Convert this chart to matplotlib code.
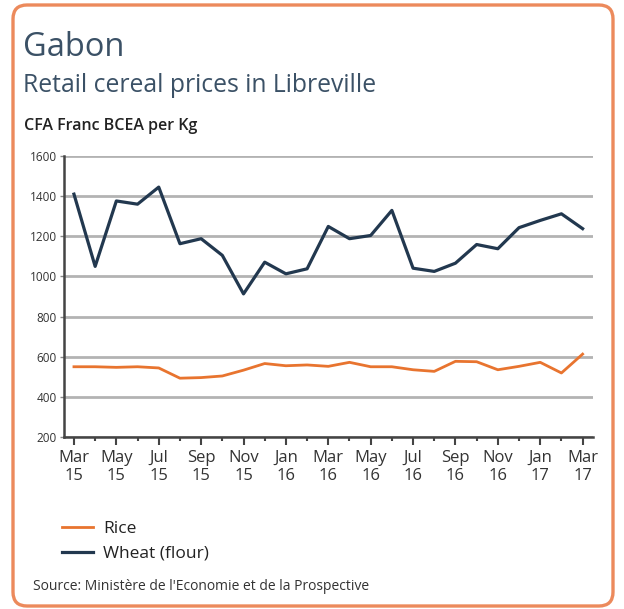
import matplotlib
matplotlib.use("Agg")
import matplotlib.pyplot as plt
from matplotlib.patches import FancyBboxPatch

plt.rcParams['font.family'] = ['Open Sans', 'DejaVu Sans']

# monthly, Mar 2015 .. Mar 2017
months = ["Mar", "Apr", "May", "Jun", "Jul", "Aug", "Sep", "Oct", "Nov", "Dec", "Jan", "Feb"] * 2 + ["Mar"]
years = ["15"] * 10 + ["16"] * 12 + ["17"] * 3
wheat = [1410, 1050, 1376, 1360, 1445, 1163, 1188, 1105, 913, 1071, 1013, 1038,
         1249, 1188, 1204, 1329, 1041, 1025, 1066, 1159, 1138, 1243, 1279, 1312, 1238]
rice = [550, 550, 547, 550, 544, 493, 496, 504, 533, 566, 555, 559,
        552, 572, 550, 550, 535, 527, 577, 575, 535, 552, 572, 519, 613]

orange = "#e8742f"
navy = "#22384f"

fig = plt.figure(figsize=(6.24, 6.09), dpi=100)

# rounded orange frame
frame = FancyBboxPatch((0.13, 0.03), 6.0, 6.01, boxstyle="round,pad=0,rounding_size=0.14",
                       transform=fig.dpi_scale_trans, facecolor="white",
                       edgecolor="#ec8a5c", linewidth=2.4, zorder=-10)
fig.patches.append(frame)

fig.text(23 / 624, 1 - 47 / 609, "Gabon", fontsize=23.5, color="#3b5166", va="center")
fig.text(23 / 624, 1 - 86 / 609, "Retail cereal prices in Libreville", fontsize=17.8,
         color="#3b5166", va="center")
fig.text(24 / 624, 1 - 126 / 609, "CFA Franc BCEA per Kg", fontsize=11.5,
         color="#222222", va="center", fontweight="semibold")

ax = fig.add_axes([64 / 624, 172 / 609, 529 / 624, 281 / 609])
ax.patch.set_alpha(0)
x = list(range(len(wheat)))
ax.plot(x, rice, color=orange, lw=2.0, label="Rice", zorder=3)
ax.plot(x, wheat, color=navy, lw=2.3, label="Wheat (flour)", zorder=3)

ax.set_xlim(-0.47, 24.49)
ax.set_ylim(200, 1600)
ax.set_yticks(range(200, 1601, 200))
ax.yaxis.grid(True, color="#b3b3b3", lw=2)
ax.set_axisbelow(True)
for s in ["top", "right"]:
    ax.spines[s].set_visible(False)
for s in ["left", "bottom"]:
    ax.spines[s].set_color("#444444")
    ax.spines[s].set_linewidth(1.8)

ax.set_xticks(x[::2])
ax.set_xticklabels([f"{m}\n{y}" for m, y in zip(months[::2], years[::2])],
                   fontsize=12, color="#333333", linespacing=1.25)
ax.set_xticks(x[1::2], minor=True)
ax.tick_params(axis="x", which="major", length=6, width=1.5, color="#444444", pad=3)
ax.tick_params(axis="x", which="minor", length=3, width=1.5, color="#444444")
ax.tick_params(axis="y", length=3, width=1, color="#888888", labelsize=8.5, labelcolor="#333333", pad=2)

handles, labels = ax.get_legend_handles_labels()
fig.legend(handles, labels, loc="upper left", bbox_to_anchor=(46 / 624, 1 - 505 / 609),
           frameon=False, fontsize=12.5, handlelength=1.8, labelspacing=0.5,
           handletextpad=0.6, labelcolor="#222222")

fig.text(33 / 624, 1 - 586 / 609, "Source: Ministère de l'Economie et de la Prospective",
         fontsize=10, color="#333333", va="center")

fig.savefig("out.png", dpi=100)
